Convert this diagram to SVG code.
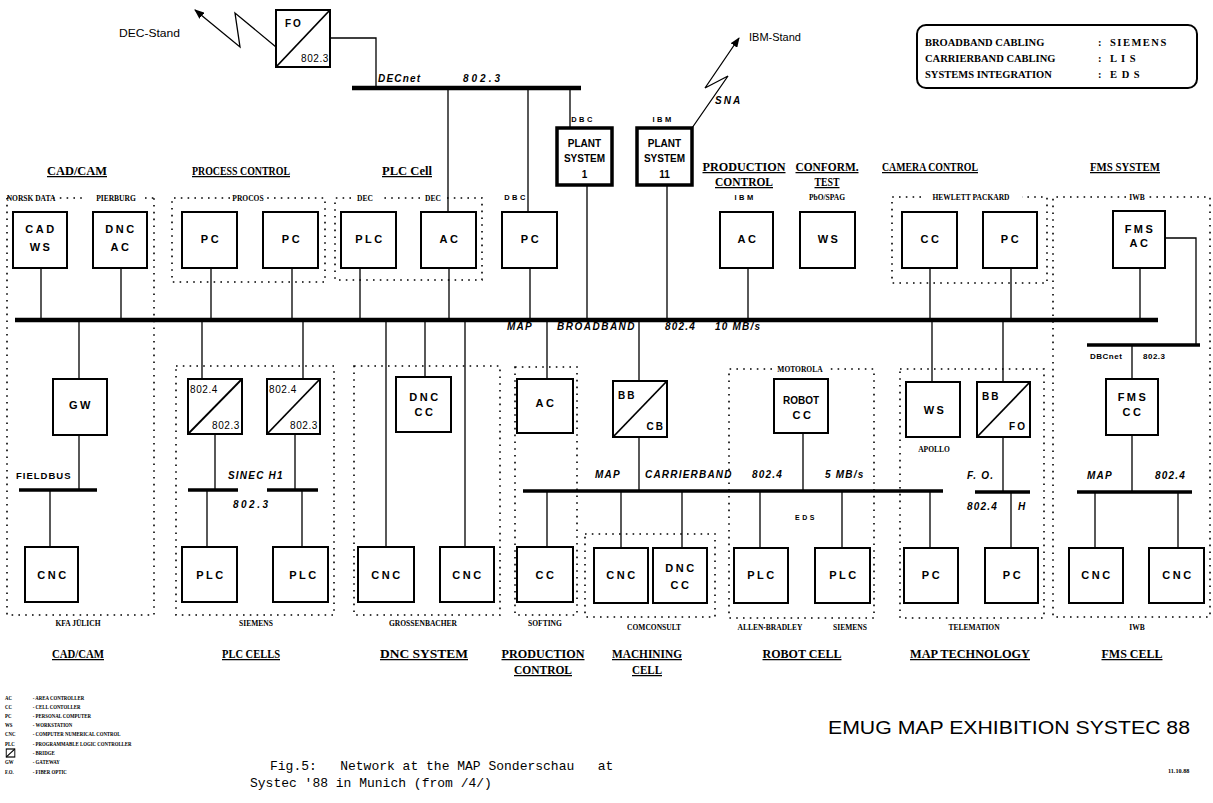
<svg xmlns="http://www.w3.org/2000/svg" width="1213" height="803" viewBox="0 0 1213 803">
<defs>
<style>
.box{fill:#fff;stroke:#000;stroke-width:2}
.pbox{fill:#fff;stroke:#000;stroke-width:3.5}
.ln{fill:none;stroke:#000;stroke-width:1.3}
.bus{fill:none;stroke:#000;stroke-width:4.5}
.sbus{fill:none;stroke:#000;stroke-width:3.5}
.dot{fill:none;stroke:#000;stroke-width:1.6;stroke-dasharray:1.6 5.2}
text{fill:#000}
.lb{font-family:"Liberation Sans",Arial,sans-serif;font-weight:bold;font-size:11px;letter-spacing:2.5px;text-anchor:middle}
.lbs{font-family:"Liberation Sans",Arial,sans-serif;font-weight:bold;font-size:10px;letter-spacing:2px}
.ps{font-family:"Liberation Sans",Arial,sans-serif;font-weight:bold;font-size:10px;text-anchor:middle}
.num{font-family:"Liberation Sans",Arial,sans-serif;font-size:10px;letter-spacing:0.6px}
.it{font-family:"Liberation Sans",Arial,sans-serif;font-style:italic;font-weight:bold;font-size:10px;letter-spacing:1.2px}
.hd{font-family:"Liberation Serif","Times New Roman",serif;font-weight:bold;font-size:12.5px;text-decoration:underline;text-anchor:middle}
.vd{font-family:"Liberation Serif","Times New Roman",serif;font-weight:bold;font-size:7.5px;text-anchor:middle}
.sp{font-family:"Liberation Sans",Arial,sans-serif;font-weight:bold;font-size:7.5px;letter-spacing:2.5px;text-anchor:middle}
.st{font-family:"Liberation Sans",Arial,sans-serif;font-size:11px}
.lg{font-family:"Liberation Serif","Times New Roman",serif;font-weight:bold;font-size:10.5px}
.leg{font-family:"Liberation Serif","Times New Roman",serif;font-weight:bold;font-size:6.2px}
.mono{font-family:"Liberation Mono","Courier New",monospace;font-size:13px}
</style>
<marker id="ah" markerWidth="10" markerHeight="8" refX="9" refY="4" orient="auto" markerUnits="userSpaceOnUse"><path d="M0,0 L10,4 L0,8 Z" fill="#000"/></marker>
</defs>
<rect width="1213" height="803" fill="#fff"/>

<!-- group outlines -->
<g id="groups">
<path class="dot" d="M7,198 H10 M53,198 H87 M145,198 H154 M7,198 V615 H154 V198"/>
<text class="vd" x="31" y="201">NORSK DATA</text>
<text class="vd" x="116" y="201">PIERBURG</text>
<path class="dot" d="M230,198 H172 V282 H325 V198 H266"/>
<text class="vd" x="248" y="201">PROCOS</text>
<path class="dot" d="M351,198 H335 V280 H482 V198 H446 M420,198 H380"/>
<text class="vd" x="365" y="201">DEC</text>
<text class="vd" x="433" y="201">DEC</text>
<path class="dot" d="M921,197 H892 V283 H1047 V197 H1022"/>
<text class="vd" x="971" y="200">HEWLETT PACKARD</text>
<path class="dot" d="M1126,197 H1053 V617 H1210 V197 H1149"/>
<text class="vd" x="1137" y="200">IWB</text>
<path class="dot" d="M176,366 H334 V615 H176 Z"/>
<path class="dot" d="M354,366 H500 V615 H354 Z"/>
<path class="dot" d="M515,367 H577 V615 H515 Z"/>
<path class="dot" d="M585,534 H715 V617 H585 Z"/>
<path class="dot" d="M772,369 H729 V618 H874 V369 H828"/>
<text class="vd" x="800" y="372">MOTOROLA</text>
<path class="dot" d="M900,369 H1044 V618 H900 Z"/>
<text class="vd" x="78" y="626">KFA JÜLICH</text>
<text class="vd" x="256" y="626">SIEMENS</text>
<text class="vd" x="423" y="626">GROSSENBACHER</text>
<text class="vd" x="545" y="626">SOFTING</text>
<text class="vd" x="654" y="630">COMCONSULT</text>
<text class="vd" x="770" y="630">ALLEN-BRADLEY</text>
<text class="vd" x="850" y="630">SIEMENS</text>
<text class="vd" x="974" y="630">TELEMATION</text>
<text class="vd" x="1137" y="630">IWB</text>
</g>

<!-- headings -->
<g id="headings">
<text class="hd" x="77" y="175" textLength="60" lengthAdjust="spacingAndGlyphs">CAD/CAM</text>
<text class="hd" x="241" y="175" textLength="98" lengthAdjust="spacingAndGlyphs">PROCESS CONTROL</text>
<text class="hd" x="407" y="175" textLength="50" lengthAdjust="spacingAndGlyphs">PLC Cell</text>
<text class="hd" x="744" y="171" textLength="83" lengthAdjust="spacingAndGlyphs">PRODUCTION</text>
<text class="hd" x="744" y="186" textLength="58" lengthAdjust="spacingAndGlyphs">CONTROL</text>
<text class="sp" x="745" y="200">IBM</text>
<text class="hd" x="827" y="171" textLength="63" lengthAdjust="spacingAndGlyphs">CONFORM.</text>
<text class="hd" x="827" y="186" textLength="25" lengthAdjust="spacingAndGlyphs">TEST</text>
<text class="vd" x="827" y="200">PbO/SPAG</text>
<text class="hd" x="930" y="171" textLength="96" lengthAdjust="spacingAndGlyphs">CAMERA CONTROL</text>
<text class="hd" x="1125" y="171" textLength="70" lengthAdjust="spacingAndGlyphs">FMS SYSTEM</text>
<text class="sp" x="516" y="200">DBC</text>

<text class="hd" x="78" y="658" textLength="52" lengthAdjust="spacingAndGlyphs">CAD/CAM</text>
<text class="hd" x="251" y="658" textLength="58" lengthAdjust="spacingAndGlyphs">PLC CELLS</text>
<text class="hd" x="424" y="658" textLength="88" lengthAdjust="spacingAndGlyphs">DNC SYSTEM</text>
<text class="hd" x="543" y="658" textLength="83" lengthAdjust="spacingAndGlyphs">PRODUCTION</text>
<text class="hd" x="543" y="674" textLength="58" lengthAdjust="spacingAndGlyphs">CONTROL</text>
<text class="hd" x="647" y="658" textLength="70" lengthAdjust="spacingAndGlyphs">MACHINING</text>
<text class="hd" x="647" y="674" textLength="30" lengthAdjust="spacingAndGlyphs">CELL</text>
<text class="hd" x="802" y="658" textLength="79" lengthAdjust="spacingAndGlyphs">ROBOT CELL</text>
<text class="hd" x="970" y="658" textLength="120" lengthAdjust="spacingAndGlyphs">MAP TECHNOLOGY</text>
<text class="hd" x="1132" y="658" textLength="61" lengthAdjust="spacingAndGlyphs">FMS CELL</text>
</g>

<!-- connectors -->
<g id="connectors">
<path class="ln" d="M276,47 L235,13 L240,47 L195,10" marker-end="url(#ah)"/>
<path class="ln" d="M692,128 L728,76 L705,88 L739,38" marker-end="url(#ah)"/>
<path class="ln" d="M330,38 H376 V88"/>
<path class="bus" d="M352,88 H581"/>
<path class="ln" d="M448,88 V212 M528,88 V212 M570,88 V128"/>
<path class="ln" d="M587,185 V320 M667,185 V320"/>
<path class="ln" d="M41,268 V320 M121,268 V320 M211,268 V320 M292,268 V320 M360,268 V320 M449,268 V320 M530,268 V320 M748,268 V320 M930,268 V320 M1011,268 V320 M1140,268 V320"/>
<path class="bus" d="M15,320 H1158"/>
<path class="ln" d="M79,320 V379 M79,435 V490 M50,490 V547"/>
<path class="sbus" d="M19,490 H97"/>
<path class="ln" d="M202,320 V379 M303,320 V379 M215,434 V490 M295,434 V490 M207,490 V547 M302,490 V547"/>
<path class="sbus" d="M188,490 H238 M267,490 H318"/>
<path class="ln" d="M386,320 V547 M425,320 V377 M465,320 V547"/>
<path class="ln" d="M547,320 V379 M639,320 V381 M639,437 V491 M803,433 V491"/>
<path class="sbus" d="M523,491 H943"/>
<path class="ln" d="M547,491 V547 M621,491 V548 M682,491 V548 M760,491 V548 M842,491 V548 M930,491 V548"/>
<path class="ln" d="M932,320 V382 M1003,320 V382 M1003,437 V492 M1011,492 V548"/>
<path class="sbus" d="M975,492 H1030"/>
<path class="ln" d="M1165,238 H1196 V345 M1132,345 V379 M1132,435 V492 M1095,492 V548 M1178,492 V548"/>
<path class="sbus" d="M1087,345 H1200 M1077,492 H1192"/>
</g>

<!-- connector labels -->
<g id="conn-labels">
<text class="st" x="119" y="37" textLength="61" lengthAdjust="spacingAndGlyphs">DEC-Stand</text>
<text class="st" x="749" y="41">IBM-Stand</text>
<text class="it" x="715" y="104" style="letter-spacing:2px">SNA</text>
<text class="it" x="378" y="82">DECnet</text>
<text class="it" x="463" y="82" style="letter-spacing:3px">802.3</text>
<text class="sp" x="583" y="122">DBC</text>
<text class="sp" x="663" y="122">IBM</text>
<text class="it" x="507" y="330">MAP</text>
<text class="it" x="557" y="330" style="letter-spacing:1.5px">BROADBAND</text>
<text class="it" x="665" y="330">802.4</text>
<text class="it" x="715" y="330">10 MB/s</text>
<text class="lbs" x="16" y="479" style="font-size:9.5px;letter-spacing:1px">FIELDBUS</text>
<text class="it" x="228" y="479">SINEC H1</text>
<text class="it" x="233" y="508" style="letter-spacing:2.5px">802.3</text>
<text class="it" x="595" y="478">MAP</text>
<text class="it" x="645" y="478">CARRIERBAND</text>
<text class="it" x="752" y="478">802.4</text>
<text class="it" x="825" y="478">5 MB/s</text>
<text class="sp" x="806" y="520" style="font-size:7px">EDS</text>
<text class="vd" x="934" y="452">APOLLO</text>
<text class="it" x="967" y="479">F. O.</text>
<text class="it" x="967" y="510">802.4</text>
<text class="it" x="1018" y="510">H</text>
<text class="lbs" x="1090" y="359" style="font-size:8px;letter-spacing:0.5px">DBCnet</text>
<text class="lbs" x="1143" y="359" style="font-size:8px;letter-spacing:0.5px">802.3</text>
<text class="it" x="1087" y="479">MAP</text>
<text class="it" x="1155" y="479">802.4</text>
</g>

<!-- nodes: top -->
<g id="fo-top"><rect class="box" x="276" y="10" width="54" height="57"/><path class="ln" d="M276,67 L330,10" style="stroke-width:1.8"/><text class="lbs" x="285" y="27">FO</text><text class="num" x="329" y="62" text-anchor="end">802.3</text></g>
<g id="plant1"><rect class="pbox" x="557" y="128" width="55" height="57"/><text class="ps" x="584.5" y="147">PLANT</text><text class="ps" x="584.5" y="162">SYSTEM</text><text class="ps" x="584.5" y="178">1</text></g>
<g id="plant11"><rect class="pbox" x="637" y="128" width="55" height="57"/><text class="ps" x="664.5" y="147">PLANT</text><text class="ps" x="664.5" y="162">SYSTEM</text><text class="ps" x="664.5" y="178">11</text></g>

<g id="cadws"><rect class="box" x="13" y="212" width="54" height="56"/><text class="lb" x="41" y="233">CAD</text><text class="lb" x="41" y="251">WS</text></g>
<g id="dncac"><rect class="box" x="93" y="212" width="54" height="56"/><text class="lb" x="121" y="233">DNC</text><text class="lb" x="121" y="251">AC</text></g>
<g id="pc-proc1"><rect class="box" x="182" y="212" width="55" height="56"/><text class="lb" x="211" y="243">PC</text></g>
<g id="pc-proc2"><rect class="box" x="263" y="212" width="55" height="56"/><text class="lb" x="292" y="243">PC</text></g>
<g id="plc-cell"><rect class="box" x="341" y="212" width="55" height="56"/><text class="lb" x="370" y="243">PLC</text></g>
<g id="ac-cell"><rect class="box" x="421" y="212" width="55" height="56"/><text class="lb" x="450" y="243">AC</text></g>
<g id="pc-dbc"><rect class="box" x="502" y="212" width="55" height="56"/><text class="lb" x="531" y="243">PC</text></g>
<g id="ac-prod"><rect class="box" x="720" y="212" width="53" height="56"/><text class="lb" x="748" y="243">AC</text></g>
<g id="ws-conf"><rect class="box" x="800" y="212" width="55" height="56"/><text class="lb" x="829" y="243">WS</text></g>
<g id="cc-cam"><rect class="box" x="902" y="212" width="55" height="56"/><text class="lb" x="931" y="243">CC</text></g>
<g id="pc-cam"><rect class="box" x="983" y="212" width="54" height="56"/><text class="lb" x="1011" y="243">PC</text></g>
<g id="fms-ac"><rect class="box" x="1113" y="211" width="52" height="57"/><text class="lb" x="1140" y="233">FMS</text><text class="lb" x="1140" y="247">AC</text></g>

<!-- nodes: middle -->
<g id="gw"><rect class="box" x="53" y="379" width="54" height="56"/><text class="lb" x="81" y="409">GW</text></g>
<g id="bridge1"><rect class="box" x="188" y="379" width="54" height="55"/><path class="ln" d="M188,434 L242,379" style="stroke-width:1.8"/><text class="num" x="190" y="393">802.4</text><text class="num" x="240" y="429" text-anchor="end">802.3</text></g>
<g id="bridge2"><rect class="box" x="267" y="379" width="53" height="55"/><path class="ln" d="M267,434 L320,379" style="stroke-width:1.8"/><text class="num" x="269" y="393">802.4</text><text class="num" x="318" y="429" text-anchor="end">802.3</text></g>
<g id="dnccc-mid"><rect class="box" x="396" y="377" width="55" height="55"/><text class="lb" x="425" y="401">DNC</text><text class="lb" x="425" y="416">CC</text></g>
<g id="ac-prod-mid"><rect class="box" x="517" y="379" width="56" height="54"/><text class="lb" x="546" y="407">AC</text></g>
<g id="bbcb"><rect class="box" x="613" y="381" width="54" height="56"/><path class="ln" d="M613,437 L667,381" style="stroke-width:1.8"/><text class="lbs" x="618" y="399">BB</text><text class="lbs" x="665" y="430" text-anchor="end">CB</text></g>
<g id="robotcc"><rect class="box" x="774" y="379" width="54" height="54"/><text class="ps" x="801" y="404">ROBOT</text><text class="lb" x="803" y="419">CC</text></g>
<g id="ws-map"><rect class="box" x="906" y="382" width="54" height="55"/><text class="lb" x="935" y="414">WS</text></g>
<g id="bbfo"><rect class="box" x="977" y="382" width="53" height="55"/><path class="ln" d="M977,437 L1030,382" style="stroke-width:1.8"/><text class="lbs" x="982" y="400">BB</text><text class="lbs" x="1027" y="430" text-anchor="end">FO</text></g>
<g id="fmscc"><rect class="box" x="1106" y="379" width="52" height="56"/><text class="lb" x="1133" y="401">FMS</text><text class="lb" x="1133" y="416">CC</text></g>

<!-- nodes: bottom -->
<g id="cnc1"><rect class="box" x="25" y="547" width="53" height="55"/><text class="lb" x="53" y="579">CNC</text></g>
<g id="plc1"><rect class="box" x="182" y="547" width="55" height="55"/><text class="lb" x="211" y="579">PLC</text></g>
<g id="plc2"><rect class="box" x="273" y="547" width="55" height="55"/><text class="lb" x="304" y="579">PLC</text></g>
<g id="cnc2"><rect class="box" x="358" y="547" width="56" height="55"/><text class="lb" x="387" y="579">CNC</text></g>
<g id="cnc3"><rect class="box" x="440" y="547" width="54" height="55"/><text class="lb" x="468" y="579">CNC</text></g>
<g id="cc-prod"><rect class="box" x="517" y="547" width="56" height="55"/><text class="lb" x="546" y="579">CC</text></g>
<g id="cnc4"><rect class="box" x="594" y="548" width="54" height="55"/><text class="lb" x="622" y="579">CNC</text></g>
<g id="dnccc-bot"><rect class="box" x="653" y="548" width="54" height="55"/><text class="lb" x="681" y="572">DNC</text><text class="lb" x="681" y="589">CC</text></g>
<g id="plc3"><rect class="box" x="734" y="548" width="54" height="55"/><text class="lb" x="762" y="579">PLC</text></g>
<g id="plc4"><rect class="box" x="815" y="548" width="55" height="55"/><text class="lb" x="844" y="579">PLC</text></g>
<g id="pc-map1"><rect class="box" x="904" y="548" width="54" height="55"/><text class="lb" x="932" y="579">PC</text></g>
<g id="pc-map2"><rect class="box" x="985" y="548" width="53" height="55"/><text class="lb" x="1013" y="579">PC</text></g>
<g id="cnc5"><rect class="box" x="1069" y="548" width="54" height="55"/><text class="lb" x="1097" y="579">CNC</text></g>
<g id="cnc6"><rect class="box" x="1149" y="548" width="55" height="55"/><text class="lb" x="1178" y="579">CNC</text></g>

<!-- cabling legend -->
<g id="cabling">
<rect x="917" y="25" width="280" height="63" rx="9" fill="none" stroke="#000" stroke-width="2"/>
<text class="lg" x="925" y="46">BROADBAND CABLING</text><text class="lg" x="1098" y="46">:</text><text class="lg" x="1110" y="46" style="letter-spacing:1.5px">SIEMENS</text>
<text class="lg" x="925" y="62">CARRIERBAND CABLING</text><text class="lg" x="1098" y="62">:</text><text class="lg" x="1110" y="62" style="letter-spacing:1px">L I S</text>
<text class="lg" x="925" y="78">SYSTEMS INTEGRATION</text><text class="lg" x="1098" y="78">:</text><text class="lg" x="1110" y="78" style="letter-spacing:1px">E D S</text>
</g>

<!-- abbreviation legend -->
<g id="abbrev" transform="scale(0.78,1)">
<text class="leg" x="6.4" y="700">AC</text><text class="leg" x="42" y="700">- AREA CONTROLLER</text>
<text class="leg" x="6.4" y="709">CC</text><text class="leg" x="42" y="709">- CELL CONTOLLER</text>
<text class="leg" x="6.4" y="718">PC</text><text class="leg" x="42" y="718">- PERSONAL COMPUTER</text>
<text class="leg" x="6.4" y="727">WS</text><text class="leg" x="42" y="727">- WORKSTATION</text>
<text class="leg" x="6.4" y="736">CNC</text><text class="leg" x="42" y="736">- COMPUTER NUMERICAL CONTROL</text>
<text class="leg" x="6.4" y="746">PLC</text><text class="leg" x="42" y="746">- PROGRAMMABLE LOGIC CONTROLLER</text>
<rect x="8" y="749" width="11" height="8" fill="none" stroke="#000" stroke-width="1.2"/><path d="M8,757 L19,749" stroke="#000" stroke-width="1.2"/><text class="leg" x="42" y="755">- BRIDGE</text>
<text class="leg" x="6.4" y="764">GW</text><text class="leg" x="42" y="764">- GATEWAY</text>
<text class="leg" x="6.4" y="774">F.O.</text><text class="leg" x="42" y="774">- FIBER OPTIC</text>
</g>

<g id="title">
<text x="828" y="734" font-family="'Liberation Sans',Arial,sans-serif" font-size="17.5" textLength="362" lengthAdjust="spacingAndGlyphs">EMUG MAP EXHIBITION SYSTEC 88</text>
<text class="mono" x="270" y="770" xml:space="preserve">Fig.5:   Network at the MAP Sonderschau   at</text>
<text class="mono" x="250" y="787">Systec '88 in Munich (from /4/)</text>
<text class="leg" x="1168" y="773">11.10.88</text>
</g>
</svg>
